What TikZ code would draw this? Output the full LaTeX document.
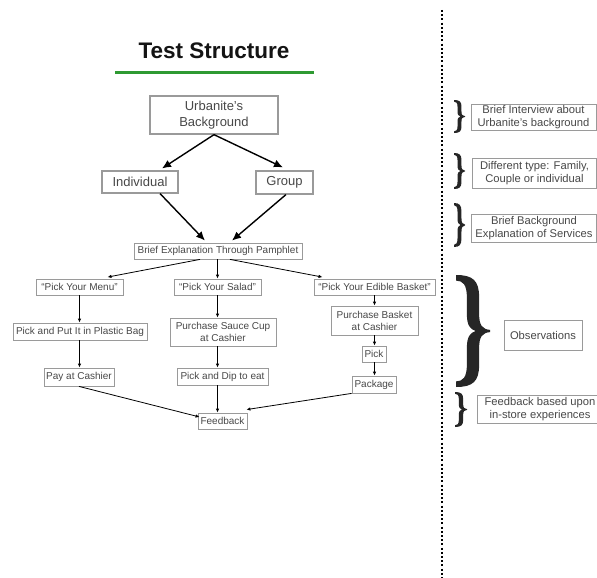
\documentclass[tikz,border=0pt]{standalone}
\usepackage{fontspec}
\setmainfont{Liberation Sans}
\usetikzlibrary{arrows.meta,calc}

\definecolor{boxgray}{HTML}{9A9A9A}
\definecolor{textgray}{HTML}{484848}
\definecolor{markgreen}{HTML}{2E9A32}

\tikzset{
  box/.style={draw=boxgray, line width=0.8pt, text=textgray, inner sep=0pt,
    align=center, font=\fontsize{10}{12}\selectfont},
  bigbox/.style={box, line width=1.3pt, font=\fontsize{13}{15.5}\selectfont},
  sidebox/.style={box, line width=1pt, font=\fontsize{11.2}{13}\selectfont},
  thickarrow/.style={line width=1.4pt, -{Latex[length=9pt,width=8pt]}},
  thinarrow/.style={line width=0.8pt, -{Latex[length=4pt,width=3.5pt]}},
  curlybrace/.pic={
    \fill[black!85]
      (0,1) .. controls (0.5,1) and (0.68,0.9) .. (0.68,0.6)
      -- (0.68,0.3) .. controls (0.68,0.1) and (0.78,0.03) .. (1,0.02)
      -- (1,-0.02) .. controls (0.78,-0.03) and (0.68,-0.1) .. (0.68,-0.3)
      -- (0.68,-0.6) .. controls (0.68,-0.9) and (0.5,-1) .. (0,-1)
      -- (0,-0.9) .. controls (0.2,-0.9) and (0.32,-0.83) .. (0.32,-0.6)
      -- (0.32,-0.3) .. controls (0.32,-0.1) and (0.42,-0.03) .. (0.58,0)
      .. controls (0.42,0.03) and (0.32,0.1) .. (0.32,0.3)
      -- (0.32,0.6) .. controls (0.32,0.83) and (0.2,0.9) .. (0,0.9)
      -- cycle;
  }
}

\begin{document}
\begin{tikzpicture}[x=1pt, y=-1pt]
  \clip (0,0) rectangle (597,578);
  \fill[white] (0,0) rectangle (597,578);

  % heading
  \node[anchor=base, font=\bfseries\fontsize{22.5}{26}\selectfont, text=black!92] (title) at (214,58.5) {Test Structure};
  \draw[markgreen, line width=3pt] (115,72.5) -- (314,72.5);

  % upper part of the flow
  \node[bigbox, minimum width=128pt, minimum height=38pt] (urb) at (214,115) {Urbanite’s\\Background};
  \node[bigbox, line width=1.1pt, minimum width=76pt, minimum height=22pt] (ind) at (140,182) {Individual};
  \node[bigbox, line width=1.1pt, minimum width=57pt, minimum height=23pt] (grp) at (284.5,182.5) {Group};
  \node[box, minimum width=168pt, minimum height=16pt] (brief) at (218,251) {Brief Explanation Through Pamphlet};

  % three service columns
  \node[box, minimum width=87pt, minimum height=16pt] (menu) at (79.5,287) {“Pick Your Menu”};
  \node[box, minimum width=134pt, minimum height=17pt] (plastic) at (80,331.5) {Pick and Put It in Plastic Bag};
  \node[box, minimum width=70pt, minimum height=18pt] (pay) at (79,377) {Pay at Cashier};

  \node[box, minimum width=87pt, minimum height=16pt] (salad) at (217.5,287) {“Pick Your Salad”};
  \node[box, minimum width=106pt, minimum height=28pt] (sauce) at (223,332) {Purchase Sauce Cup\\at Cashier};
  \node[box, minimum width=91pt, minimum height=17pt] (dip) at (222.5,376.5) {Pick and Dip to eat};

  \node[box, minimum width=121pt, minimum height=16pt] (basket) at (374.5,287) {“Pick Your Edible Basket”};
  \node[box, minimum width=87pt, minimum height=29pt] (pbasket) at (374.5,320.5) {Purchase Basket\\at Cashier};
  \node[box, minimum width=24pt, minimum height=16pt] (pick) at (374,354) {Pick};
  \node[box, minimum width=44pt, minimum height=17pt] (package) at (374,384.5) {Package};

  \node[box, minimum width=49pt, minimum height=16pt] (feedback) at (222.5,421) {Feedback};

  % connectors
  \draw[thickarrow] (urb.south) -- ([xshift=22pt, yshift=2pt]ind.north);
  \draw[thickarrow] (urb.south) -- ([xshift=-1.5pt, yshift=3pt]grp.north);
  \draw[thickarrow] ([xshift=20pt]ind.south) -- ([xshift=-13pt, yshift=2pt]brief.north);
  \draw[thickarrow] ([xshift=1.5pt]grp.south) -- ([xshift=14pt, yshift=2pt]brief.north);

  \draw[thinarrow] ([xshift=-18pt]brief.south) -- ([xshift=28pt, yshift=1.5pt]menu.north);
  \draw[thinarrow] (brief.south -| salad.north) -- (salad.north);
  \draw[thinarrow] ([xshift=12pt]brief.south) -- ([xshift=-52pt, yshift=1.5pt]basket.north);

  \draw[thinarrow] (menu.south) -- (menu.south |- plastic.north);
  \draw[thinarrow] (menu.south |- plastic.south) -- (menu.south |- pay.north);

  \draw[thinarrow] (salad.south) -- (salad.south |- sauce.north);
  \draw[thinarrow] (salad.south |- sauce.south) -- (salad.south |- dip.north);
  \draw[thinarrow] (salad.south |- dip.south) -- (salad.south |- feedback.north);

  \draw[thinarrow] (basket.south) -- (pbasket.north);
  \draw[thinarrow] (pbasket.south) -- (pbasket.south |- pick.north);
  \draw[thinarrow] (pbasket.south |- pick.south) -- (pbasket.south |- package.north);

  \draw[thinarrow] (pay.south) -- ([xshift=2pt, yshift=4pt]feedback.west);
  \draw[thinarrow] (package.south west) -- ([xshift=-1pt, yshift=3pt]feedback.north east);

  % dotted divider
  \draw[line width=2pt, dash pattern=on 2pt off 2.2pt] (441.5,10) -- (441.5,578);

  % braces and notes
  \pic[xscale=11, yscale=16.5] at (454,116.5) {curlybrace};
  \node[sidebox, minimum width=125pt, minimum height=26pt] (note1) at (533.5,117) {Brief Interview about\\Urbanite’s background};

  \pic[xscale=11, yscale=18] at (454,171) {curlybrace};
  \node[sidebox, minimum width=124pt, minimum height=30pt] (note2) at (534.5,173) {Different type: Family,\\Couple or individual};

  \pic[xscale=11, yscale=22] at (454,225) {curlybrace};
  \node[sidebox, minimum width=125pt, minimum height=28pt] (note3) at (534,228) {Brief Background\\Explanation of Services};

  \pic[xscale=34, yscale=56] at (456,331) {curlybrace};
  \node[sidebox, minimum width=78pt, minimum height=30pt] (note4) at (543,335) {Observations};

  \pic[xscale=12, yscale=17.5] at (455,409.5) {curlybrace};
  \node[sidebox, minimum width=126pt, minimum height=28pt] (note5) at (540,409) {Feedback based upon\\in-store experiences};
\end{tikzpicture}
\end{document}
